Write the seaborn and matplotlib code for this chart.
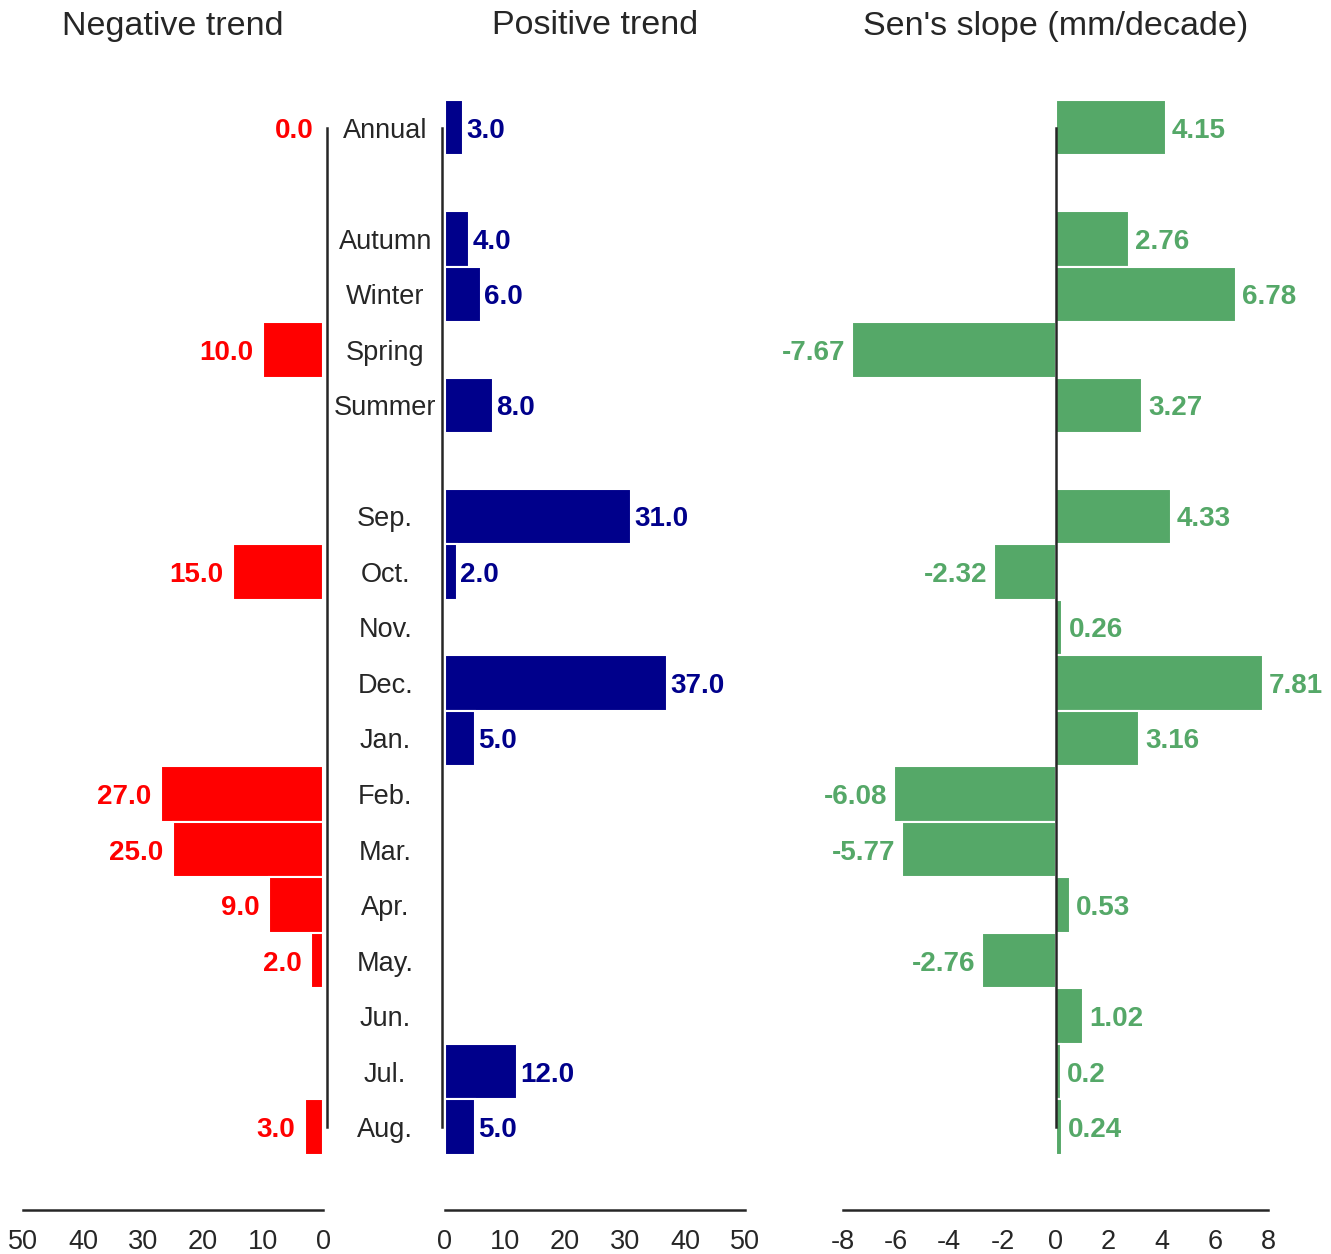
import numpy as np
import pandas as pd
import matplotlib
matplotlib.use("Agg")
import matplotlib.pyplot as plt
import seaborn as sns

# Row labels (blank entries separate the annual / seasonal / monthly groups)
rows = ["Annual", "", "Autumn", "Winter", "Spring", "Summer", "",
        "Sep.", "Oct.", "Nov.", "Dec.", "Jan.", "Feb.", "Mar.", "Apr.",
        "May.", "Jun.", "Jul.", "Aug."]

# Number of stations with a negative trend (NaN = none shown)
negative = [0.0, np.nan, np.nan, np.nan, 10.0, np.nan, np.nan,
            np.nan, 15.0, np.nan, np.nan, np.nan, 27.0, 25.0, 9.0,
            2.0, np.nan, np.nan, 3.0]

# Number of stations with a positive trend
positive = [3.0, np.nan, 4.0, 6.0, np.nan, 8.0, np.nan,
            31.0, 2.0, np.nan, 37.0, 5.0, np.nan, np.nan, np.nan,
            np.nan, np.nan, 12.0, 5.0]

# Sen's slope in mm/decade
sens_slope = [4.15, np.nan, 2.76, 6.78, -7.67, 3.27, np.nan,
              4.33, -2.32, 0.26, 7.81, 3.16, -6.08, -5.77, 0.53,
              -2.76, 1.02, 0.2, 0.24]

sns.set_style("white")
plt.rcParams["font.family"] = ["Liberation Sans", "DejaVu Sans"]

RED = "#ff0000"
NAVY = "#00008b"
GREEN = "#55a868"
SPINE = "#262626"

df = pd.DataFrame({
    "pos": np.arange(len(rows)),
    "label": rows,
    "negative": negative,
    "positive": positive,
    "slope": sens_slope,
})

fig = plt.figure(figsize=(13.31, 12.54), dpi=100)
bottom, height = 0.0790, 0.8413
ax_neg = fig.add_axes([0.01728, bottom, 0.2254, height])
ax_pos = fig.add_axes([0.3343, bottom, 0.2254, height])
ax_sen = fig.add_axes([0.6334, bottom, 0.3193, height])

bar_kw = dict(orient="y", native_scale=True, width=1.0,
              edgecolor="white", linewidth=1.5)

sns.barplot(data=df.dropna(subset=["negative"]), x="negative", y="pos",
            color=RED, saturation=1, ax=ax_neg, **bar_kw)
sns.barplot(data=df.dropna(subset=["positive"]), x="positive", y="pos",
            color=NAVY, saturation=1, ax=ax_pos, **bar_kw)
sns.barplot(data=df.dropna(subset=["slope"]), x="slope", y="pos",
            color=GREEN, saturation=1, ax=ax_sen, **bar_kw)

tick_fs = 19.5
val_fs = 20
n = len(rows)

for ax in (ax_neg, ax_pos, ax_sen):
    ax.set_ylim(n - 0.5, -0.5)
    ax.set_xlabel("")
    ax.set_ylabel("")
    for s in ax.spines.values():
        s.set_visible(False)
        s.set_color(SPINE)
        s.set_linewidth(1.8)
    ax.spines["bottom"].set_visible(True)
    ax.spines["bottom"].set_position(("outward", 39.6))
    ax.tick_params(axis="x", length=0, pad=13.5, labelsize=tick_fs,
                   labelcolor=SPINE)
    ax.tick_params(axis="y", length=0)

# Negative trend: reversed x axis, spine on the right
ax_neg.set_xlim(50, 0)
ax_neg.set_xticks([50, 40, 30, 20, 10, 0])
ax_neg.spines["bottom"].set_bounds(0, 50)
ax_neg.spines["right"].set_visible(True)
ax_neg.spines["right"].set_bounds(0, n - 1)
ax_neg.spines["right"].set_position(("outward", 3))
ax_neg.set_yticks([])

# Positive trend: category labels on the left spine
ax_pos.set_xlim(0, 50)
ax_pos.set_xticks([0, 10, 20, 30, 40, 50])
ax_pos.spines["bottom"].set_bounds(0, 50)
ax_pos.spines["left"].set_visible(True)
ax_pos.spines["left"].set_bounds(0, n - 1)
ax_pos.spines["left"].set_position(("outward", 2))
ax_pos.set_yticks(range(n))
ax_pos.set_yticklabels(rows)
ax_pos.tick_params(axis="y", pad=41, labelsize=tick_fs, labelcolor=SPINE)
for t in ax_pos.get_yticklabels():
    t.set_ha("center")
    t.set_va("center_baseline")

# Sen's slope: spine through zero
ax_sen.set_xlim(-8, 8)
ax_sen.set_xticks(range(-8, 9, 2))
ax_sen.set_xticklabels([str(v) for v in range(-8, 9, 2)])
ax_sen.spines["bottom"].set_bounds(-8, 8)
ax_sen.spines["left"].set_visible(True)
ax_sen.spines["left"].set_position(("data", 0))
ax_sen.spines["left"].set_bounds(0, n - 1)
ax_sen.set_yticks([])

# Value labels
lbl_kw = dict(textcoords="offset points", va="center_baseline",
              fontsize=val_fs, fontweight="bold")
for p, v in zip(df["pos"], df["negative"]):
    if not np.isnan(v):
        ax_neg.annotate(f"{v:.1f}", (v, p), xytext=(-7, 0), ha="right",
                        color=RED, **lbl_kw)
for p, v in zip(df["pos"], df["positive"]):
    if not np.isnan(v):
        ax_pos.annotate(f"{v:.1f}", (v, p), xytext=(2.5, 0), ha="left",
                        color=NAVY, **lbl_kw)
for p, v in zip(df["pos"], df["slope"]):
    if not np.isnan(v):
        off = 4.5 if v >= 0 else -5
        ax_sen.annotate(f"{v:g}", (v, p), xytext=(off, 0),
                        ha="left" if v >= 0 else "right",
                        color=GREEN, **lbl_kw)

# Panel titles
title_y = 1 - 26 / 1254
for ax, title in ((ax_neg, "Negative trend"), (ax_pos, "Positive trend"),
                  (ax_sen, "Sen's slope (mm/decade)")):
    bb = ax.get_position()
    fig.text((bb.x0 + bb.x1) / 2, title_y, title, ha="center", va="center",
             fontsize=24.5, color=SPINE)

fig.savefig("out.png", dpi=100)
